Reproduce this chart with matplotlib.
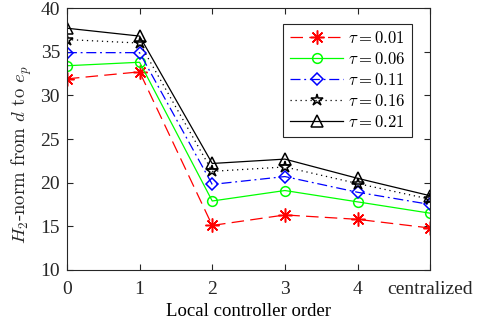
import matplotlib
matplotlib.use('Agg')
import matplotlib.pyplot as plt

orders = [0, 1, 2, 3, 4, 5]
tick_labels = ['0', '1', '2', '3', '4', 'centralized']

tau_001 = [31.9, 32.7, 15.1, 16.3, 15.8, 14.8]
tau_006 = [33.4, 33.8, 17.9, 19.1, 17.8, 16.5]
tau_011 = [34.9, 34.9, 19.8, 20.7, 18.9, 17.5]
tau_016 = [36.4, 36.0, 21.3, 21.8, 19.9, 18.1]
tau_021 = [37.7, 36.8, 22.2, 22.7, 20.5, 18.5]

plt.rcParams['font.family'] = ['Liberation Serif', 'DejaVu Serif']
plt.rcParams['mathtext.fontset'] = 'cm'


def plot():
    fig = plt.figure(figsize=(4.78, 3.26), dpi=100)
    ax = fig.add_axes([0.140, 0.172, 0.760, 0.803])
    ms = 7
    lw = 0.9
    ax.plot(orders, tau_001, color='#ff0000', linestyle=(0, (10, 5)), marker=(8, 2, 0),
            markersize=ms + 3, markeredgewidth=1.1, linewidth=lw, label=r'$\tau = 0.01$')
    ax.plot(orders, tau_006, color='#00ff00', linestyle='-', marker='o',
            markersize=ms, markerfacecolor='none', markeredgewidth=1.1, linewidth=lw,
            label=r'$\tau = 0.06$')
    ax.plot(orders, tau_011, color='#0000ff', linestyle=(0, (8, 3, 1.5, 3)), marker='D',
            markersize=ms - 1, markerfacecolor='none', markeredgewidth=1.1, linewidth=lw,
            label=r'$\tau = 0.11$')
    ax.plot(orders, tau_016, color='black', linestyle=(0, (1, 3)), marker='*',
            markersize=ms + 2, markerfacecolor='none', markeredgewidth=1.1, linewidth=lw,
            label=r'$\tau = 0.16$')
    ax.plot(orders, tau_021, color='black', linestyle='-', marker='^',
            markersize=ms + 1, markerfacecolor='none', markeredgewidth=1.1, linewidth=lw,
            label=r'$\tau = 0.21$')

    ax.set_xlim(0, 5)
    ax.set_ylim(10, 40)
    ax.set_xticks(orders)
    ax.set_xticklabels(tick_labels)
    ax.set_yticks(range(10, 41, 5))
    ax.tick_params(direction='in', top=True, right=True, labelsize=14, length=4,
                   colors='#262626')
    ax.tick_params(axis='x', pad=8)
    ax.tick_params(axis='y', pad=5)
    for s in ax.spines.values():
        s.set_color('#262626')
        s.set_linewidth(0.8)

    ax.set_xlabel('Local controller order', size=13.5)
    ax.xaxis.set_label_coords(0.5, -0.125)
    ax.set_ylabel(r'$H_2$-norm from $d$ to $e_p$', size=13.5,
                  family='cmr10', color='#262626')
    ax.yaxis.set_label_coords(-0.09, 0.44)

    leg = ax.legend(loc='upper right', bbox_to_anchor=(0.95, 0.94), borderaxespad=0,
                    fontsize=12, fancybox=False, framealpha=1, edgecolor='#262626',
                    handlelength=3.2, labelspacing=0.3, borderpad=0.4, handletextpad=0.3)
    leg.get_frame().set_linewidth(0.8)

    fig.savefig('out.png', dpi=100)


if __name__ == '__main__':
    plot()
